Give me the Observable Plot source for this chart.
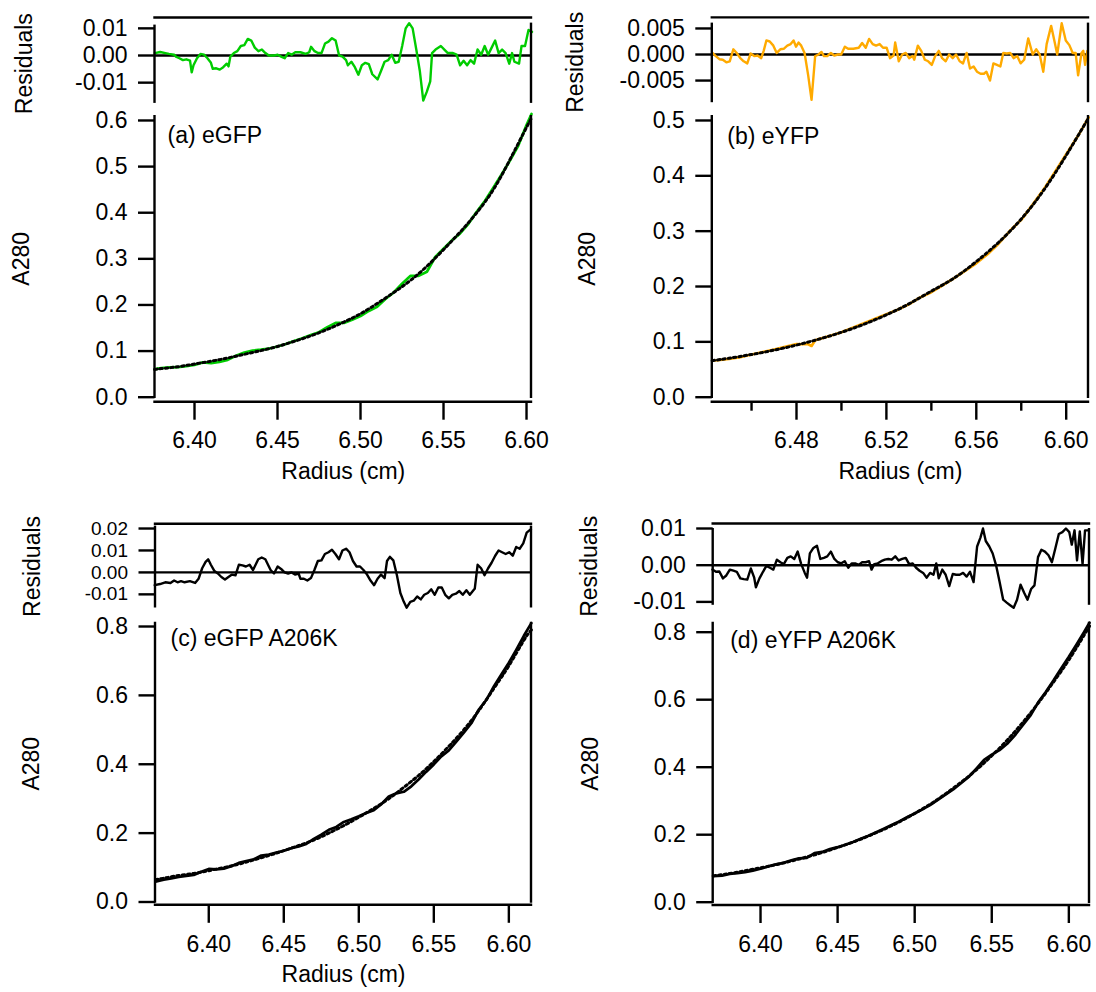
<!DOCTYPE html>
<html>
<head>
<meta charset="utf-8">
<script src="https://cdn.jsdelivr.net/npm/d3@7"></script>
<script src="https://cdn.jsdelivr.net/npm/@observablehq/plot@0.6"></script>
<style>
  html, body { margin: 0; padding: 0; background: #fff; }
  #chart { position: relative; width: 1096px; height: 992px; overflow: hidden; }
  #chart svg { position: absolute; overflow: visible; }
</style>
</head>
<body>
<div id="chart"></div>
<script>
// ---------------- text ----------------
const panelLabels = ["(a) eGFP", "(b) eYFP", "(c) eGFP A206K", "(d) eYFP A206K"];
const xLabel = "Radius (cm)";
const yLabel = "A280";
const resLabel = "Residuals";

// ---------------- ticks ----------------
const xTicks = [6.40, 6.45, 6.50, 6.55, 6.60];
const xTicksB = [6.48, 6.52, 6.56, 6.60];
const xMinorB = [6.46, 6.50, 6.54, 6.58];
const yTicksA = [0, 0.1, 0.2, 0.3, 0.4, 0.5, 0.6];
const yTicksB = [0, 0.1, 0.2, 0.3, 0.4, 0.5];
const yTicksCD = [0, 0.2, 0.4, 0.6, 0.8];
const resTicksA = [-0.01, 0, 0.01];
const resTicksB = [-0.005, 0, 0.005];
const resTicksC = [-0.01, 0, 0.01, 0.02];
const resTicksD = [-0.01, 0, 0.01];

// ---------------- (a) eGFP ----------------
const radiusA = [6.376, 6.38, 6.385, 6.39, 6.395, 6.40, 6.405, 6.41, 6.415, 6.42,
  6.425, 6.43, 6.435, 6.44, 6.445, 6.45, 6.455, 6.46, 6.465, 6.47,
  6.475, 6.48, 6.485, 6.49, 6.495, 6.50, 6.505, 6.51, 6.515, 6.52,
  6.525, 6.53, 6.535, 6.54, 6.545, 6.55, 6.555, 6.56, 6.565, 6.57,
  6.575, 6.58, 6.585, 6.59, 6.595, 6.60, 6.603];
const dataA = [0.061, 0.063, 0.0645, 0.065, 0.0675, 0.070, 0.0755, 0.074, 0.0765, 0.081,
  0.090, 0.097, 0.101, 0.103, 0.1055, 0.110, 0.1155, 0.122, 0.128, 0.135,
  0.141, 0.152, 0.161, 0.161, 0.168, 0.176, 0.187, 0.196, 0.213, 0.227,
  0.246, 0.263, 0.263, 0.272, 0.304, 0.322, 0.340, 0.355, 0.376, 0.402,
  0.426, 0.454, 0.483, 0.513, 0.545, 0.590, 0.614];
const fitRadiusA = [6.376, 6.38, 6.39, 6.40, 6.41, 6.42, 6.43, 6.44, 6.45, 6.46, 6.47, 6.48, 6.49,
  6.50, 6.51, 6.52, 6.53, 6.54, 6.55, 6.56, 6.57, 6.58, 6.59, 6.60, 6.603];
const fitA = [0.060, 0.062, 0.066, 0.072, 0.078, 0.085, 0.093, 0.101, 0.110, 0.121, 0.133, 0.147, 0.163,
  0.181, 0.203, 0.227, 0.253, 0.284, 0.320, 0.358, 0.400, 0.450, 0.515, 0.585, 0.605];
const resRadiusA = [6.3761, 6.3793, 6.3825, 6.3846, 6.3877, 6.3888, 6.3909, 6.3930, 6.3951, 6.3973,
  6.3983, 6.3994, 6.4015, 6.4036, 6.4057, 6.4078, 6.4099, 6.4110, 6.4131, 6.4152,
  6.4173, 6.4194, 6.4205, 6.4216, 6.4237, 6.4258, 6.4279, 6.4300, 6.4321, 6.4342,
  6.4363, 6.4385, 6.4406, 6.4427, 6.4448, 6.4480, 6.4501, 6.4522, 6.4543, 6.4564,
  6.4585, 6.4607, 6.4638, 6.4670, 6.4691, 6.4702, 6.4723, 6.4744, 6.4765, 6.4786,
  6.4807, 6.4828, 6.4850, 6.4871, 6.4892, 6.4913, 6.4924, 6.4945, 6.4966, 6.4987,
  6.5008, 6.5029, 6.5050, 6.5071, 6.5103, 6.5124, 6.5145, 6.5167, 6.5188, 6.5209,
  6.5230, 6.5251, 6.5272, 6.5293, 6.5314, 6.5336, 6.5357, 6.5378, 6.5399, 6.5420,
  6.5431, 6.5452, 6.5484, 6.5505, 6.5526, 6.5557, 6.5579, 6.5600, 6.5621, 6.5642,
  6.5663, 6.5684, 6.5705, 6.5727, 6.5748, 6.5769, 6.5790, 6.5811, 6.5832, 6.5853,
  6.5874, 6.5896, 6.5913, 6.5927, 6.5955, 6.5970, 6.5991, 6.6012, 6.6033];
const resA = [0.0009, 0.0013, 0.0009, 0.0006, 0.0003, -0.0004, -0.0010, -0.0017, -0.0014, -0.0019,
  -0.0062, -0.0036, -0.0010, 0.0006, 0.0003, -0.0010, -0.0027, -0.0049, -0.0047, -0.0052,
  -0.0043, -0.0030, -0.0040, -0.0004, 0.0009, 0.0016, 0.0035, 0.0038, 0.0061, 0.0055,
  0.0029, 0.0016, 0.0022, 0.0009, 0, 0, 0.0003, -0.0004, -0.0010, 0.0009,
  0.0003, 0.0012, 0.0012, 0.0006, 0.0012, 0.0032, 0.0016, 0.0009, 0.0009, 0.0044,
  0.0051, 0.0064, 0.0055, 0, -0.0004, -0.0017, -0.0036, -0.0023, -0.0043, -0.0071,
  -0.0036, -0.0027, -0.0032, -0.0069, -0.0088, -0.0056, -0.0023, -0.0017, 0.0003, -0.0027,
  -0.0023, 0.0035, 0.0100, 0.0119, 0.0100, 0.0022, -0.0056, -0.0166, -0.0134, -0.0095,
  0.0009, 0.0022, 0.0035, 0.0022, 0.0009, 0.0009, 0.0003, -0.0036, -0.0019, -0.0036,
  -0.0017, -0.0030, 0.0022, 0.0003, 0.0035, 0.0003, 0.0029, 0.0055, 0.0009, 0.0022,
  0.0009, -0.0030, 0.0009, -0.0023, -0.0030, 0.0035, 0.0035, 0.0094, 0.0087];

// ---------------- (b) eYFP ----------------
const radiusB = [6.4425, 6.445, 6.45, 6.455, 6.46, 6.465, 6.47, 6.475, 6.48,
  6.4852, 6.4867, 6.4883,
  6.49, 6.495, 6.50, 6.505, 6.51, 6.515, 6.52, 6.525, 6.53, 6.535, 6.54, 6.545, 6.55,
  6.555, 6.56, 6.565, 6.57, 6.575, 6.58, 6.585, 6.59, 6.595, 6.60, 6.605, 6.61];
const dataB = [0.0663, 0.0668, 0.0691, 0.0724, 0.0772, 0.0817, 0.086, 0.0912, 0.096,
  0.0957, 0.0926, 0.1028,
  0.1049, 0.1109, 0.1173, 0.1256, 0.1334, 0.1418, 0.1501, 0.158, 0.1679, 0.1803, 0.1898, 0.2023, 0.2147,
  0.2284, 0.242, 0.2582, 0.2778, 0.3007, 0.3205, 0.3475, 0.3755, 0.407, 0.439, 0.4705, 0.5057];
const fitRadiusB = [6.4425, 6.45, 6.46, 6.47, 6.48, 6.49, 6.50, 6.51, 6.52, 6.53, 6.54, 6.55,
  6.56, 6.57, 6.58, 6.59, 6.60, 6.61];
const fitB = [0.066, 0.0704, 0.0772, 0.085, 0.0942, 0.1049, 0.1173, 0.1318, 0.1488, 0.1686, 0.1916, 0.215,
  0.245, 0.280, 0.322, 0.374, 0.437, 0.505];
const resRadiusB = [6.4426, 6.4441, 6.4457, 6.4472, 6.4488, 6.4503, 6.4519, 6.4534, 6.4550, 6.4565,
  6.4581, 6.4596, 6.4612, 6.4627, 6.4643, 6.4654, 6.4666, 6.4681, 6.4697, 6.4712,
  6.4728, 6.4743, 6.4759, 6.4774, 6.4787, 6.4798, 6.4809, 6.4821, 6.4836, 6.4852,
  6.4867, 6.4883, 6.4898, 6.4911, 6.4922, 6.4937, 6.4953, 6.4968, 6.4984, 6.4999,
  6.5015, 6.5030, 6.5053, 6.5077, 6.5092, 6.5108, 6.5123, 6.5139, 6.5154, 6.5170,
  6.5185, 6.5201, 6.5216, 6.5232, 6.5239, 6.5255, 6.5270, 6.5286, 6.5301, 6.5317,
  6.5324, 6.5340, 6.5355, 6.5371, 6.5386, 6.5402, 6.5417, 6.5433, 6.5448, 6.5464,
  6.5479, 6.5495, 6.5510, 6.5526, 6.5541, 6.5557, 6.5572, 6.5588, 6.5603, 6.5619,
  6.5634, 6.5645, 6.5661, 6.5676, 6.5692, 6.5707, 6.5720, 6.5735, 6.5751, 6.5766,
  6.5782, 6.5797, 6.5813, 6.5831, 6.5851, 6.5867, 6.5882, 6.5898, 6.5913, 6.5933,
  6.5949, 6.5960, 6.5980, 6.5998, 6.6014, 6.6029, 6.6042, 6.6053, 6.6068, 6.6076,
  6.6084, 6.6094];
const resB = [0.0003, -0.0003, -0.0009, -0.0010, -0.0015, -0.0013, 0.0010, 0.0003, -0.0007, -0.0013,
  -0.0017, 0.0002, -0.0003, -0.0002, -0.0007, 0.0007, 0.0027, 0.0025, 0.0017, 0.0003,
  0.0010, 0.0011, 0.0017, 0.0020, 0.0027, 0.0015, 0.0023, 0.0017, 0.0003, -0.0040,
  -0.0087, -0.0003, 0, 0.0005, -0.0003, -0.0003, 0.0003, -0.0002, 0, 0,
  0.0015, 0.0011, 0.0011, 0.0013, 0.0022, 0.0013, 0.0030, 0.0020, 0.0017, 0.0020,
  0.0013, 0.0013, -0.0007, -0.0002, 0.0023, -0.0013, 0, 0.0003, -0.0007, -0.0003,
  -0.0010, 0.0017, 0.0007, -0.0010, -0.0013, -0.0020, -0.0003, 0.0007, -0.0007, -0.0013,
  0, -0.0007, 0, -0.0013, -0.0017, 0.0003, -0.0027, -0.0023, -0.0033, -0.0037,
  -0.0037, -0.0033, -0.0050, -0.0017, -0.0020, -0.0023, 0.0003, 0.0002, 0.0003, -0.0007,
  -0.0003, -0.0017, -0.0010, 0.0031, 0, 0.0010, 0, -0.0033, 0.0020, 0.0055,
  0.0023, 0, 0.0060, 0.0027, 0.0018, 0.0003, 0.0003, -0.0040, 0.0003, 0.0007,
  -0.0020, 0.0007];

// ---------------- (c) eGFP A206K ----------------
const radiusC = [6.3645, 6.37, 6.375, 6.38, 6.385, 6.39, 6.395, 6.40, 6.405, 6.41,
  6.415, 6.42, 6.425, 6.43, 6.435, 6.44, 6.445, 6.45, 6.455, 6.46,
  6.465, 6.47, 6.475, 6.48, 6.485, 6.49, 6.495, 6.50, 6.505, 6.51,
  6.515, 6.52, 6.525, 6.53, 6.535, 6.54, 6.545, 6.55, 6.555, 6.56,
  6.565, 6.57, 6.575, 6.58, 6.585, 6.59, 6.595, 6.60, 6.605, 6.61, 6.615];
const dataC = [0.0592, 0.0645, 0.0685, 0.0727, 0.0758, 0.0785, 0.088, 0.096, 0.095, 0.097,
  0.104, 0.1135, 0.119, 0.124, 0.135, 0.138, 0.1435, 0.149, 0.1563, 0.1615,
  0.1685, 0.183, 0.1955, 0.2095, 0.218, 0.2325, 0.240, 0.2487, 0.2585, 0.2665,
  0.284, 0.3065, 0.3155, 0.320, 0.336, 0.3565, 0.3785, 0.3995, 0.423, 0.440,
  0.466, 0.4915, 0.519, 0.559, 0.5865, 0.626, 0.661, 0.695, 0.733, 0.773, 0.810];
const fitRadiusC = [6.3645, 6.37, 6.38, 6.39, 6.40, 6.41, 6.42, 6.43, 6.44, 6.45, 6.46, 6.47, 6.48,
  6.49, 6.50, 6.51, 6.52, 6.53, 6.54, 6.55, 6.56, 6.57, 6.58, 6.59, 6.60, 6.61, 6.615];
const fitC = [0.065, 0.069, 0.077, 0.083, 0.091, 0.100, 0.110, 0.122, 0.135, 0.149, 0.164, 0.180, 0.200,
  0.222, 0.246, 0.272, 0.300, 0.333, 0.368, 0.408, 0.452, 0.500, 0.556, 0.620, 0.686, 0.760, 0.790];
const resRadiusC = [6.3640, 6.3675, 6.3710, 6.3745, 6.3769, 6.3792, 6.3815, 6.3839, 6.3874, 6.3909,
  6.3932, 6.3956, 6.3979, 6.3996, 6.4014, 6.4038, 6.4061, 6.4084, 6.4108, 6.4131,
  6.4155, 6.4178, 6.4201, 6.4225, 6.4248, 6.4272, 6.4295, 6.4330, 6.4353, 6.4377,
  6.4412, 6.4435, 6.4459, 6.4482, 6.4505, 6.4529, 6.4552, 6.4575, 6.4599, 6.4611,
  6.4634, 6.4657, 6.4681, 6.4704, 6.4727, 6.4751, 6.4774, 6.4798, 6.4821, 6.4844,
  6.4868, 6.4891, 6.4915, 6.4938, 6.4961, 6.4985, 6.5008, 6.5031, 6.5055, 6.5078,
  6.5102, 6.5125, 6.5148, 6.5172, 6.5188, 6.5207, 6.5230, 6.5254, 6.5277, 6.5300,
  6.5319, 6.5343, 6.5366, 6.5389, 6.5413, 6.5436, 6.5460, 6.5483, 6.5506, 6.5530,
  6.5553, 6.5576, 6.5600, 6.5623, 6.5647, 6.5670, 6.5693, 6.5717, 6.5740, 6.5764,
  6.5773, 6.5792, 6.5815, 6.5838, 6.5862, 6.5885, 6.5909, 6.5932, 6.5955, 6.5979,
  6.6002, 6.6026, 6.6049, 6.6072, 6.6096, 6.6119, 6.6147];
const resC = [-0.0058, -0.0053, -0.0045, -0.0048, -0.0037, -0.0045, -0.0040, -0.0045, -0.0040, -0.0048,
  -0.0029, 0.0019, 0.0048, 0.0060, 0.0035, 0.0006, -0.0005, -0.0021, -0.0032, -0.0021,
  -0.0010, -0.0013, 0.0035, 0.0032, 0.0027, 0.0035, 0.0011, 0.0060, 0.0068, 0.0060,
  0.0011, -0.0005, 0.0027, 0.0016, 0, -0.0005, 0, -0.0010, -0.0005, -0.0029,
  -0.0029, -0.0037, -0.0026, 0.0011, 0.0052, 0.0055, 0.0084, 0.0092, 0.0103, 0.0084,
  0.0060, 0.0100, 0.0108, 0.0092, 0.0052, 0.0027, 0.0027, 0.0011, -0.0010, -0.0037,
  -0.0058, -0.0029, -0.0010, -0.0026, 0.0052, 0.0071, 0.0055, -0.0013, -0.0094, -0.0134,
  -0.0161, -0.0134, -0.0129, -0.0110, -0.0123, -0.0102, -0.0094, -0.0077, -0.0102, -0.0069,
  -0.0069, -0.0102, -0.0118, -0.0102, -0.0097, -0.0085, -0.0102, -0.0081, -0.0102, -0.0081,
  -0.0074, 0.0035, 0.0019, -0.0013, 0.0019, 0.0044, 0.0076, 0.0100, 0.0092, 0.0084,
  0.0092, 0.0076, 0.0116, 0.0108, 0.0132, 0.0181, 0.0197];

// ---------------- (d) eYFP A206K ----------------
const radiusD = [6.3693, 6.375, 6.38, 6.385, 6.39, 6.395, 6.40, 6.405, 6.41, 6.415,
  6.42, 6.425, 6.43, 6.435, 6.44, 6.445, 6.45, 6.455, 6.46, 6.465,
  6.47, 6.475, 6.48, 6.485, 6.49, 6.495, 6.50, 6.505, 6.51, 6.515,
  6.52, 6.525, 6.53, 6.535, 6.54, 6.545, 6.55, 6.555, 6.56, 6.565,
  6.57, 6.575, 6.58, 6.585, 6.59, 6.595, 6.60, 6.605, 6.61, 6.6134];
const dataD = [0.077, 0.0785, 0.084, 0.086, 0.089, 0.0935, 0.099, 0.106, 0.112, 0.117,
  0.124, 0.130, 0.1315, 0.1455, 0.149, 0.1575, 0.163, 0.170, 0.1785, 0.188,
  0.197, 0.207, 0.2175, 0.2286, 0.2395, 0.2515, 0.263, 0.275, 0.2876, 0.303,
  0.3184, 0.334, 0.3524, 0.371, 0.396, 0.4215, 0.437, 0.4505, 0.4695, 0.4945,
  0.5235, 0.5525, 0.5915, 0.623, 0.6567, 0.6925, 0.727, 0.764, 0.8015, 0.828];
const fitRadiusD = [6.3693, 6.38, 6.39, 6.40, 6.41, 6.42, 6.43, 6.44, 6.45, 6.46, 6.47, 6.48, 6.49,
  6.50, 6.51, 6.52, 6.53, 6.54, 6.55, 6.56, 6.57, 6.58, 6.59, 6.60, 6.61, 6.6134];
const fitD = [0.078, 0.085, 0.093, 0.102, 0.111, 0.122, 0.134, 0.147, 0.162, 0.178, 0.196, 0.216, 0.238,
  0.263, 0.290, 0.321, 0.355, 0.392, 0.434, 0.480, 0.532, 0.589, 0.652, 0.718, 0.792, 0.818];
const resRadiusD = [6.3688, 6.3711, 6.3733, 6.3756, 6.3778, 6.3801, 6.3824, 6.3846, 6.3869, 6.3891,
  6.3914, 6.3937, 6.3959, 6.3970, 6.3993, 6.4016, 6.4038, 6.4061, 6.4083, 6.4106,
  6.4129, 6.4151, 6.4174, 6.4196, 6.4219, 6.4241, 6.4264, 6.4287, 6.4302, 6.4320,
  6.4343, 6.4366, 6.4388, 6.4411, 6.4433, 6.4456, 6.4479, 6.4501, 6.4524, 6.4546,
  6.4569, 6.4591, 6.4614, 6.4637, 6.4659, 6.4682, 6.4704, 6.4720, 6.4738, 6.4761,
  6.4783, 6.4806, 6.4829, 6.4851, 6.4874, 6.4896, 6.4919, 6.4942, 6.4964, 6.4987,
  6.5009, 6.5032, 6.5055, 6.5077, 6.5100, 6.5122, 6.5140, 6.5156, 6.5179, 6.5201,
  6.5224, 6.5247, 6.5269, 6.5292, 6.5314, 6.5337, 6.5359, 6.5382, 6.5405, 6.5427,
  6.5443, 6.5461, 6.5484, 6.5506, 6.5529, 6.5551, 6.5574, 6.5597, 6.5619, 6.5642,
  6.5664, 6.5687, 6.5710, 6.5732, 6.5755, 6.5777, 6.5800, 6.5822, 6.5845, 6.5868,
  6.5890, 6.5913, 6.5935, 6.5958, 6.5981, 6.6003, 6.6019, 6.6037, 6.6053, 6.6071,
  6.6089, 6.6105, 6.6127];
const resD = [-0.0012, -0.0018, -0.0017, -0.0036, -0.0028, -0.0012, -0.0015, -0.0018, -0.0036, -0.0038,
  -0.0039, -0.0009, -0.0034, -0.0060, -0.0036, -0.0018, -0.0002, -0.0007, -0.0012, 0.0015,
  0.0008, 0.0003, 0.0020, 0.0024, 0.0017, 0.0037, 0.0003, -0.0021, -0.0034, 0.0032,
  0.0047, 0.0053, 0.0017, 0.0020, 0.0024, 0.0037, 0.0017, 0.0008, 0.0005, 0.0011,
  -0.0007, 0.0005, 0.0005, 0.0001, 0.0008, 0.0008, 0.0011, -0.0012, 0.0003, 0.0005,
  0.0011, 0.0015, 0.0017, 0.0015, 0.0024, 0.0013, 0.0017, 0.0020, 0.0003, 0.0005,
  -0.0007, -0.0015, -0.0021, -0.0034, -0.0021, -0.0026, 0.0005, -0.0036, -0.0012, -0.0026,
  -0.0057, -0.0024, -0.0026, -0.0026, -0.0021, -0.0031, -0.0018, -0.0046, 0.0051, 0.0076,
  0.0100, 0.0066, 0.0051, 0.0032, -0.0002, -0.0046, -0.0094, -0.0102, -0.0109, -0.0116,
  -0.0094, -0.0053, -0.0075, -0.0094, -0.0065, -0.0055, 0.0022, 0.0042, 0.0037, 0.0027,
  0.0008, 0.0047, 0.0085, 0.0090, 0.0100, 0.0090, 0.0056, 0.0095, 0.0013, 0.0092,
  0.0003, 0.0095, 0.0095];

// ---------------- helpers ----------------
const FONT = "'Liberation Sans', Arial, Helvetica, sans-serif";
const FS = 23;
const AXW = 2.4;   // axis stroke width
const LW = 2.4;    // data stroke width
const rows = (xs, ys) => xs.map((x, i) => ({r: x, v: ys[i]}));
const chart = document.getElementById("chart");

function axisFrame(opts) {
  return (index, scales, values, dims) => {
    const {width, height, marginLeft, marginRight, marginTop, marginBottom} = dims;
    const x0 = marginLeft, x1 = width - marginRight, y0 = marginTop, y1 = height - marginBottom;
    const yEnd = opts.main ? scales.y(0) : y1;
    const g = d3.create("svg:g").attr("stroke", "#000").attr("stroke-width", AXW).attr("fill", "none");
    const seg = (a, b, c, d) => g.append("line").attr("x1", a).attr("y1", b).attr("x2", c).attr("y2", d);
    seg(x0, y0, x0, yEnd + 1.2);
    seg(x1, y0 - (opts.rightExtra || 0), x1, yEnd + 1.2);
    if (opts.main) seg(x0 - 1.2, y1, x1 + 1.2, y1);
    if (opts.topLine != null) seg(x0 - 1.2, y0 + opts.topLine, x1 + 1.2, y0 + opts.topLine);
    return g.node();
  };
}

function place(svg, box) {
  svg.style.left = box[0] + "px";
  svg.style.top = box[1] + "px";
  chart.appendChild(svg);
}

function baseOpts(box, frame) {
  return {
    width: box[2] - box[0], height: box[3] - box[1],
    marginLeft: frame[0] - box[0], marginRight: box[2] - frame[2],
    marginTop: frame[1] - box[1], marginBottom: box[3] - frame[3],
    style: {fontFamily: FONT, fontSize: FS + "px", color: "#000", background: "transparent", overflow: "visible"}
  };
}

function residualPlot(c) {
  const svg = Plot.plot({
    ...baseOpts(c.box, c.frame),
    x: {domain: c.xDomain, axis: null},
    y: {domain: c.yDomain},
    marks: [
      Plot.axisY({ticks: c.ticks, tickFormat: d => d.toFixed(c.digits), tickSize: 16.5, tickPadding: 11,
        strokeWidth: AXW, label: null, fontSize: c.tickFont || FS}),
      Plot.ruleY([0], {stroke: "#000", strokeWidth: AXW}),
      Plot.line(rows(c.xs, c.ys), {x: "r", y: "v", stroke: c.color, strokeWidth: LW, strokeLinejoin: "round"}),
      axisFrame({topLine: c.topLine - c.frame[1], rightExtra: c.rightExtra}),
      Plot.text([resLabel], {text: d => d, frameAnchor: "left", dx: c.labelX - c.frame[0], rotate: -90,
        textAnchor: "middle", lineAnchor: "middle", fontSize: FS, fill: "#000"})
    ]
  });
  place(svg, c.box);
}

function mainPlot(c) {
  const marks = [
    Plot.axisY({ticks: c.yTicks, tickFormat: d => d.toFixed(1), tickSize: 16.5, tickPadding: 11,
      strokeWidth: AXW, label: null}),
    Plot.axisX({ticks: c.xTicks, tickFormat: d => d.toFixed(2), tickSize: 18, tickPadding: c.xPad,
      strokeWidth: AXW, label: null})
  ];
  if (c.xMinor) marks.push(Plot.axisX({ticks: c.xMinor, tickFormat: () => "", tickSize: 9, strokeWidth: AXW, label: null}));
  marks.push(
    Plot.line(rows(c.xs, c.ys), {x: "r", y: "v", stroke: c.color, strokeWidth: LW + 0.3, strokeLinejoin: "round"}),
    Plot.line(rows(c.fx, c.fy), {x: "r", y: "v", stroke: "#000", strokeWidth: 3, strokeDasharray: "2.4,3", curve: "natural"}),
    axisFrame({main: true}),
    Plot.text([yLabel], {text: d => d, frameAnchor: "left", dx: c.labelX - c.frame[0], rotate: -90,
      textAnchor: "middle", lineAnchor: "middle", fontSize: FS, fill: "#000"}),
    Plot.text([c.panel], {text: d => d, frameAnchor: "top-left", dx: c.panelDx, dy: c.panelDy,
      textAnchor: "start", lineAnchor: "bottom", fontSize: FS, fill: "#000"})
  );
  if (c.xLabelY != null) marks.push(
    Plot.text([xLabel], {text: d => d, frameAnchor: "bottom", dy: c.xLabelY - c.frame[3],
      textAnchor: "middle", lineAnchor: "middle", fontSize: FS, fill: "#000"}));
  const svg = Plot.plot({
    ...baseOpts(c.box, c.frame),
    x: {domain: c.xDomain},
    y: {domain: c.yDomain, insetBottom: c.inset},
    marks
  });
  place(svg, c.box);
}

const GREEN = "#00cc00", ORANGE = "#ffaa00", BLACK = "#000000";

// ---- (a)
residualPlot({box: [0, 0, 548, 105], frame: [154.5, 24.6, 531, 101.7], xDomain: [6.3762, 6.6030],
  yDomain: [-0.0172, 0.0112], ticks: resTicksA, digits: 2, color: GREEN, xs: resRadiusA, ys: resA,
  topLine: 17.5, rightExtra: 2, labelX: 23.7});
mainPlot({box: [0, 105, 548, 495], frame: [154.5, 115, 531, 401.7], xDomain: [6.3762, 6.6030],
  yDomain: [0, 0.6108], inset: 5, yTicks: yTicksA, xTicks: xTicks, xPad: 11, color: GREEN,
  xs: radiusA, ys: dataA, fx: fitRadiusA, fy: fitA, labelX: 21, panel: panelLabels[0],
  panelDx: 12.5, panelDy: 27, xLabelY: 471});

// ---- (b)
residualPlot({box: [548, 0, 1096, 105], frame: [711.8, 22.6, 1088, 101], xDomain: [6.44254, 6.60992],
  yDomain: [-0.00902, 0.00603], ticks: resTicksB, digits: 3, color: ORANGE, xs: resRadiusB, ys: resB,
  topLine: 17.4, rightExtra: 0, labelX: 575});
mainPlot({box: [548, 105, 1096, 495], frame: [711.8, 115, 1088, 401.7], xDomain: [6.44254, 6.60992],
  yDomain: [0, 0.509], inset: 5, yTicks: yTicksB, xTicks: xTicksB, xMinor: xMinorB, xPad: 11, color: ORANGE,
  xs: radiusB, ys: dataB, fx: fitRadiusB, fy: fitB, labelX: 587, panel: panelLabels[1],
  panelDx: 15, panelDy: 28, xLabelY: 471});

// ---- (c)
residualPlot({box: [0, 505, 548, 612], frame: [155, 525.6, 531, 606.3], xDomain: [6.3645, 6.6151],
  yDomain: [-0.01567, 0.0211], ticks: resTicksC, digits: 2, color: BLACK, xs: resRadiusC, ys: resC,
  topLine: 523.8, rightExtra: 0, labelX: 32.4, tickFont: 19});
mainPlot({box: [0, 612, 548, 992], frame: [155, 621.7, 531, 904.8], xDomain: [6.3645, 6.6151],
  yDomain: [0, 0.8125], inset: 3.3, yTicks: yTicksCD, xTicks: xTicks, xPad: 12.5, color: BLACK,
  xs: radiusC, ys: dataC, fx: fitRadiusC, fy: fitC, labelX: 31, panel: panelLabels[2],
  panelDx: 15, panelDy: 23.5, xLabelY: 974});

// ---- (d)
residualPlot({box: [548, 505, 1096, 612], frame: [712.7, 528, 1089, 603.6], xDomain: [6.3693, 6.6134],
  yDomain: [-0.0106, 0.0100], ticks: resTicksD, digits: 2, color: BLACK, xs: resRadiusD, ys: resD,
  topLine: 523.5, rightExtra: 0, labelX: 589});
mainPlot({box: [548, 612, 1096, 992], frame: [712.7, 621.7, 1089, 905], xDomain: [6.3693, 6.6134],
  yDomain: [0, 0.8296], inset: 3.3, yTicks: yTicksCD, xTicks: xTicks, xPad: 12.5, color: BLACK,
  xs: radiusD, ys: dataD, fx: fitRadiusD, fy: fitD, labelX: 590, panel: panelLabels[3],
  panelDx: 17, panelDy: 26, xLabelY: null});
</script>
</body>
</html>
